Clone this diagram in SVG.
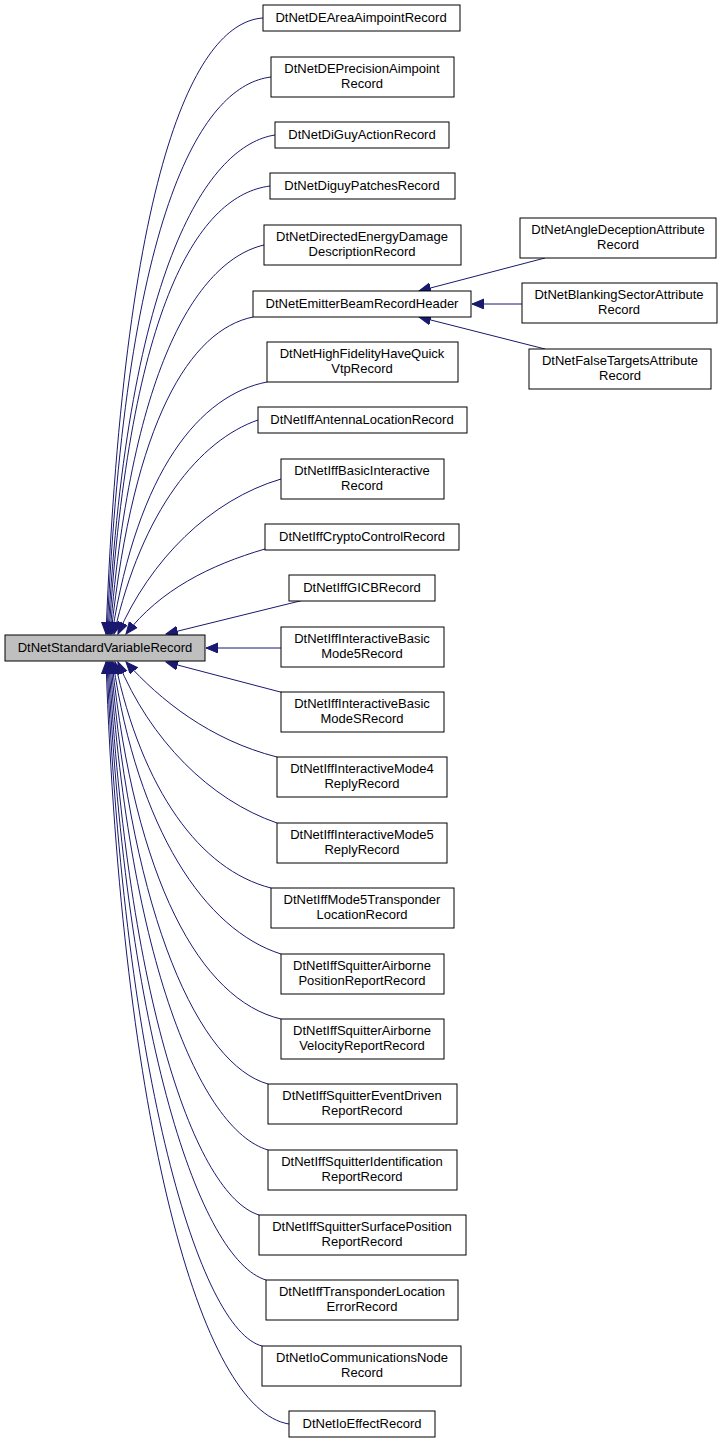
<svg xmlns="http://www.w3.org/2000/svg" width="725" height="1444" viewBox="0 0 725 1444">
<style>
rect{fill:#fff;stroke:#000;stroke-width:1}
.m{fill:#bfbfbf}
text{font-family:"Liberation Sans",Arial,sans-serif;font-size:13px;text-anchor:middle;fill:#000}
path{fill:none;stroke:#191970;stroke-width:1}
</style>
<defs><marker id="a" markerUnits="userSpaceOnUse" markerWidth="14" markerHeight="12" refX="12" refY="5" orient="auto"><path d="M0,0 L12,5 L0,10 Z" style="fill:#191970;stroke:#191970"/></marker></defs>
<rect width="725" height="1444" style="fill:#fff;stroke:none"/>
<g id="edges">
<path marker-end="url(#a)" d="M263,18 C200,22 125,150 106,634"/>
<path marker-end="url(#a)" d="M271,77 C205,85 126,200 107,634"/>
<path marker-end="url(#a)" d="M275,135 C210,145 128,260 108,634"/>
<path marker-end="url(#a)" d="M270,186 C200,195 130,300 109,634"/>
<path marker-end="url(#a)" d="M264,245 C200,260 132,360 110,634"/>
<path marker-end="url(#a)" d="M253,317 C190,330 134,420 111,634"/>
<path marker-end="url(#a)" d="M267,382 C200,395 138,470 112,634"/>
<path marker-end="url(#a)" d="M258,420 C200,440 142,510 114,634"/>
<path marker-end="url(#a)" d="M281,479 C210,500 150,560 118,634"/>
<path marker-end="url(#a)" d="M265,549 C210,565 160,590 126,634"/>
<path marker-end="url(#a)" d="M304,600 L166,634"/>
<path marker-end="url(#a)" d="M281,648 L206,648"/>
<path marker-end="url(#a)" d="M288,694 L166,662"/>
<path marker-end="url(#a)" d="M277,757 C210,740 160,700 126,662"/>
<path marker-end="url(#a)" d="M277,823 C210,800 150,740 118,662"/>
<path marker-end="url(#a)" d="M271,888 C200,870 142,790 115,662"/>
<path marker-end="url(#a)" d="M281,954 C205,930 138,830 113,662"/>
<path marker-end="url(#a)" d="M281,1019 C200,1000 135,880 112,662"/>
<path marker-end="url(#a)" d="M268,1084 C200,1065 132,920 111,662"/>
<path marker-end="url(#a)" d="M268,1150 C200,1130 130,960 110,662"/>
<path marker-end="url(#a)" d="M259,1215 C195,1195 128,1000 109,662"/>
<path marker-end="url(#a)" d="M266,1280 C200,1260 126,1040 108,662"/>
<path marker-end="url(#a)" d="M262,1346 C200,1330 124,1080 107,662"/>
<path marker-end="url(#a)" d="M289,1424 C200,1410 122,1120 106,662"/>
<path marker-end="url(#a)" d="M545,258 L419,291"/>
<path marker-end="url(#a)" d="M522,304 L472,304"/>
<path marker-end="url(#a)" d="M545,349 L419,317"/>
</g>
<g id="n0"><rect class="m" x="5" y="635" width="200" height="26"/><text x="105" y="652">DtNetStandardVariableRecord</text></g>
<g id="n1"><rect x="263" y="5" width="197" height="26"/><text x="361" y="22">DtNetDEAreaAimpointRecord</text></g>
<g id="n2"><rect x="271" y="57" width="183" height="40"/><text x="362" y="73">DtNetDEPrecisionAimpoint</text><text x="362" y="88">Record</text></g>
<g id="n3"><rect x="275" y="122" width="174" height="26"/><text x="362" y="139">DtNetDiGuyActionRecord</text></g>
<g id="n4"><rect x="270" y="173" width="185" height="26"/><text x="362" y="190">DtNetDiguyPatchesRecord</text></g>
<g id="n5"><rect x="264" y="225" width="197" height="40"/><text x="362" y="241">DtNetDirectedEnergyDamage</text><text x="362" y="256">DescriptionRecord</text></g>
<g id="n6"><rect x="253" y="291" width="218" height="26"/><text x="362" y="308">DtNetEmitterBeamRecordHeader</text></g>
<g id="n7"><rect x="267" y="342" width="191" height="40"/><text x="362" y="358">DtNetHighFidelityHaveQuick</text><text x="362" y="373">VtpRecord</text></g>
<g id="n8"><rect x="258" y="407" width="209" height="26"/><text x="362" y="424">DtNetIffAntennaLocationRecord</text></g>
<g id="n9"><rect x="281" y="459" width="163" height="40"/><text x="362" y="475">DtNetIffBasicInteractive</text><text x="362" y="490">Record</text></g>
<g id="n10"><rect x="265" y="524" width="194" height="26"/><text x="362" y="541">DtNetIffCryptoControlRecord</text></g>
<g id="n11"><rect x="289" y="575" width="146" height="26"/><text x="362" y="592">DtNetIffGICBRecord</text></g>
<g id="n12"><rect x="281" y="627" width="163" height="40"/><text x="362" y="643">DtNetIffInteractiveBasic</text><text x="362" y="658">Mode5Record</text></g>
<g id="n13"><rect x="281" y="692" width="163" height="40"/><text x="362" y="708">DtNetIffInteractiveBasic</text><text x="362" y="723">ModeSRecord</text></g>
<g id="n14"><rect x="277" y="757" width="170" height="40"/><text x="362" y="773">DtNetIffInteractiveMode4</text><text x="362" y="788">ReplyRecord</text></g>
<g id="n15"><rect x="277" y="823" width="170" height="40"/><text x="362" y="839">DtNetIffInteractiveMode5</text><text x="362" y="854">ReplyRecord</text></g>
<g id="n16"><rect x="271" y="888" width="183" height="40"/><text x="362" y="904">DtNetIffMode5Transponder</text><text x="362" y="919">LocationRecord</text></g>
<g id="n17"><rect x="281" y="954" width="163" height="40"/><text x="362" y="970">DtNetIffSquitterAirborne</text><text x="362" y="985">PositionReportRecord</text></g>
<g id="n18"><rect x="281" y="1019" width="163" height="40"/><text x="362" y="1035">DtNetIffSquitterAirborne</text><text x="362" y="1050">VelocityReportRecord</text></g>
<g id="n19"><rect x="268" y="1084" width="189" height="40"/><text x="362" y="1100">DtNetIffSquitterEventDriven</text><text x="362" y="1115">ReportRecord</text></g>
<g id="n20"><rect x="268" y="1150" width="189" height="40"/><text x="362" y="1166">DtNetIffSquitterIdentification</text><text x="362" y="1181">ReportRecord</text></g>
<g id="n21"><rect x="259" y="1215" width="207" height="40"/><text x="362" y="1231">DtNetIffSquitterSurfacePosition</text><text x="362" y="1246">ReportRecord</text></g>
<g id="n22"><rect x="266" y="1280" width="192" height="40"/><text x="362" y="1296">DtNetIffTransponderLocation</text><text x="362" y="1311">ErrorRecord</text></g>
<g id="n23"><rect x="262" y="1346" width="199" height="40"/><text x="362" y="1362">DtNetIoCommunicationsNode</text><text x="362" y="1377">Record</text></g>
<g id="n24"><rect x="289" y="1411" width="146" height="26"/><text x="362" y="1428">DtNetIoEffectRecord</text></g>
<g id="n25"><rect x="520" y="218" width="196" height="40"/><text x="618" y="234">DtNetAngleDeceptionAttribute</text><text x="618" y="249">Record</text></g>
<g id="n26"><rect x="522" y="283" width="195" height="40"/><text x="619" y="299">DtNetBlankingSectorAttribute</text><text x="619" y="314">Record</text></g>
<g id="n27"><rect x="529" y="349" width="182" height="40"/><text x="620" y="365">DtNetFalseTargetsAttribute</text><text x="620" y="380">Record</text></g>
</svg>
